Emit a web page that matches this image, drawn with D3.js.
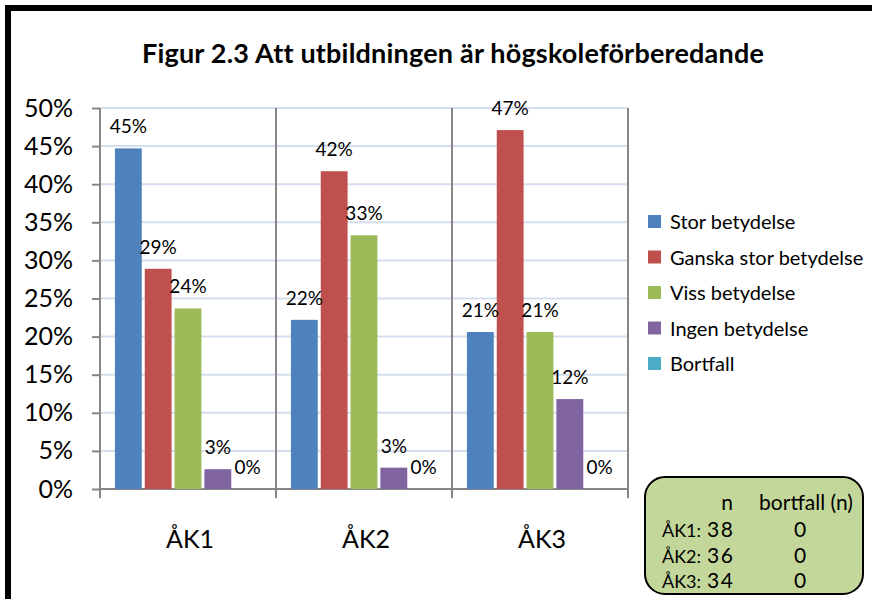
<!DOCTYPE html>
<html>
<head>
<meta charset="utf-8">
<script src="https://cdn.jsdelivr.net/npm/d3@7"></script>
<style>
  body { margin: 0; background: #ffffff; }
  svg text { font-family: Lato, "Open Sans", sans-serif; fill: #000; }
</style>
</head>
<body>
<svg id="chart" width="872" height="599"></svg>
<script>
"use strict";

var categories = ["ÅK1", "ÅK2", "ÅK3"];
var seriesNames = ["Stor betydelse", "Ganska stor betydelse", "Viss betydelse", "Ingen betydelse", "Bortfall"];
var seriesColors = ["#4f81bd", "#c0504d", "#9bbb59", "#8064a2", "#4bacc6"];

// share of answers per class (n = 38, 36, 34)
var stor     = [0.447, 0.222, 0.206];
var ganska   = [0.289, 0.417, 0.471];
var viss     = [0.237, 0.333, 0.206];
var ingen    = [0.026, 0.028, 0.118];
var bortfall = [0, 0, 0];
var seriesValues = [stor, ganska, viss, ingen, bortfall];

var tableRows = ["ÅK1:", "ÅK2:", "ÅK3:"];
var nValues = [38, 36, 34];
var bortfallN = [0, 0, 0];

var title = "Figur 2.3 Att utbildningen är högskoleförberedande";

var svg = d3.select("#chart");

// outer frame
svg.append("rect")
  .attr("x", 8).attr("y", 8)
  .attr("width", 900).attr("height", 620)
  .attr("fill", "#fff")
  .attr("stroke", "#000")
  .attr("stroke-width", 6);

svg.append("text")
  .attr("x", 453).attr("y", 63)
  .attr("text-anchor", "middle")
  .style("font-weight", "bold")
  .style("font-size", "27px")
  .style("letter-spacing", "0.2px")
  .text(title);

var x0 = d3.scaleBand().domain(categories).range([100, 628]);
var x1 = d3.scaleBand().domain(d3.range(seriesNames.length))
  .range([0, x0.bandwidth()])
  .paddingInner(0.1)
  .paddingOuter(0.5);
var y = d3.scaleLinear().domain([0, 0.5]).range([489, 108]);
var pct = d3.format(".0%");

// gridlines
svg.append("g")
  .selectAll("line").data(y.ticks(10).filter(t => t > 0))
  .enter().append("line")
  .attr("x1", 100).attr("x2", 628)
  .attr("y1", d => y(d)).attr("y2", d => y(d))
  .attr("stroke", "#d5deee")
  .attr("stroke-width", 2);

// y axis
var yAxis = svg.append("g")
  .attr("transform", "translate(100,0)")
  .call(d3.axisLeft(y).ticks(10).tickFormat(pct).tickSize(8).tickPadding(19));
yAxis.select(".domain").attr("stroke", "#868686").attr("stroke-width", 2)
  .attr("d", "M0,108V498");
yAxis.selectAll(".tick line").attr("stroke", "#868686").attr("stroke-width", 2);
yAxis.selectAll(".tick text")
  .style("font-family", "Lato, sans-serif")
  .style("font-size", "25px")
  .attr("fill", "#000");

// category separators and baseline
var seps = categories.map(c => x0(c) + x0.bandwidth());
svg.append("g")
  .selectAll("line").data(seps)
  .enter().append("line")
  .attr("x1", d => d).attr("x2", d => d)
  .attr("y1", 108).attr("y2", 498)
  .attr("stroke", "#868686")
  .attr("stroke-width", 2);
svg.append("line")
  .attr("x1", 100).attr("x2", 628)
  .attr("y1", y(0)).attr("y2", y(0))
  .attr("stroke", "#868686")
  .attr("stroke-width", 2);

// category labels
svg.append("g")
  .selectAll("text").data(categories)
  .enter().append("text")
  .attr("x", d => x0(d) + x0.bandwidth() / 2 + 2)
  .attr("y", 548)
  .attr("text-anchor", "middle")
  .style("font-size", "25px")
  .text(d => d);

// bars
var groups = svg.append("g")
  .selectAll("g").data(categories)
  .enter().append("g")
  .attr("transform", d => "translate(" + x0(d) + ",0)");

groups.selectAll("rect")
  .data((c, ci) => seriesValues.map((s, si) => ({ si: si, v: s[ci] })))
  .enter().append("rect")
  .attr("x", d => x1(d.si))
  .attr("width", x1.bandwidth())
  .attr("y", d => y(d.v))
  .attr("height", d => y(0) - y(d.v))
  .attr("fill", d => seriesColors[d.si]);

groups.selectAll("text")
  .data((c, ci) => seriesValues.map((s, si) => ({ si: si, v: s[ci] })))
  .enter().append("text")
  .attr("x", d => x1(d.si) + x1.bandwidth() / 2)
  .attr("y", d => y(d.v) - 15)
  .attr("text-anchor", "middle")
  .style("font-size", "19px")
  .text(d => pct(d.v));

// legend
var legend = svg.append("g")
  .selectAll("g").data(seriesNames)
  .enter().append("g")
  .attr("transform", (d, i) => "translate(648," + (222 + i * 35.5) + ")");
legend.append("rect")
  .attr("x", 0).attr("y", -7)
  .attr("width", 13).attr("height", 13)
  .attr("fill", (d, i) => seriesColors[i]);
legend.append("text")
  .attr("x", 22).attr("y", 0)
  .attr("dy", "0.35em")
  .style("font-size", "20px")
  .text(d => d);

// n / bortfall table
var tbl = svg.append("g");
tbl.append("rect")
  .attr("x", 645).attr("y", 477)
  .attr("width", 218).attr("height", 117)
  .attr("rx", 20).attr("ry", 20)
  .attr("fill", "#c4d79b")
  .attr("stroke", "#000")
  .attr("stroke-width", 2);
tbl.append("text")
  .attr("x", 727).attr("y", 510)
  .attr("text-anchor", "middle")
  .style("font-size", "21px")
  .text("n");
tbl.append("text")
  .attr("x", 806).attr("y", 510)
  .attr("text-anchor", "middle")
  .style("font-size", "21px")
  .text("bortfall (n)");
var rows = tbl.selectAll("g.row").data(tableRows)
  .enter().append("g")
  .attr("class", "row")
  .attr("transform", (d, i) => "translate(0," + (537 + i * 25.5) + ")");
rows.append("text")
  .attr("x", 662)
  .style("font-size", "18px")
  .text(d => d);
rows.append("text")
  .attr("x", 707)
  .style("font-size", "21px")
  .style("letter-spacing", "1.5px")
  .text((d, i) => nValues[i]);
rows.append("text")
  .attr("x", 800)
  .attr("text-anchor", "middle")
  .style("font-size", "21px")
  .text((d, i) => bortfallN[i]);
</script>
</body>
</html>
